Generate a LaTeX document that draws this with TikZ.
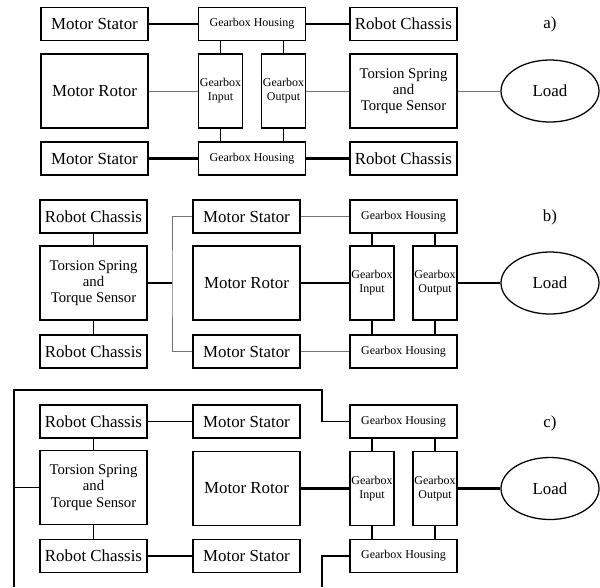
\documentclass[tikz,border=0pt]{standalone}
\usepackage{fontspec}
\setmainfont{Liberation Serif}
\usetikzlibrary{shapes.geometric}
\begin{document}
\begin{tikzpicture}[x=0.25mm, y=-0.25mm,
  box/.style={draw, line width=0.9pt, inner sep=0pt, align=center, minimum width=26.75mm, minimum height=8.25mm, font=\fontsize{12}{14}\selectfont},
  tallbox/.style={box, minimum height=18.5mm},
  spring/.style={tallbox, font=\fontsize{10.5}{11.6}\selectfont},
  gbox/.style={box, font=\fontsize{8.5}{10}\selectfont},
  gear/.style={gbox, minimum width=11mm, minimum height=18.5mm},
  load/.style={draw, ellipse, line width=0.9pt, inner sep=0pt, minimum width=24.5mm, minimum height=15.5mm, font=\fontsize{12}{14}\selectfont},
  lbl/.style={font=\fontsize{12}{14}\selectfont},
  thk/.style={line width=1.5pt},
  thn/.style={line width=0.8pt},
  gry/.style={line width=0.6pt, black!55}]
\useasboundingbox (0,0) rectangle (600,587);

\node[box] (ms1) at (94.5,24) {Motor Stator};
\node[gbox] (gh1) at (252,24) {Gearbox Housing};
\node[box] (rc1) at (403.5,24) {Robot Chassis};
\node[lbl] (la) at (550,24) {a)};
\node[tallbox] (mr1) at (94.5,91) {Motor Rotor};
\node[gear] (gi1) at (220.5,91) {Gearbox\\Input};
\node[gear] (go1) at (283.5,91) {Gearbox\\Output};
\node[spring] (ts1) at (403.5,91) {Torsion Spring\\and\\Torque Sensor};
\node[load] (ld1) at (550,91) {Load};
\node[box] (ms2) at (94.5,158.5) {Motor Stator};
\node[gbox] (gh2) at (252,158.5) {Gearbox Housing};
\node[box] (rc2) at (403.5,158.5) {Robot Chassis};

\draw[thk] (ms1) -- (gh1);
\draw[thk] (gh1) -- (rc1);
\draw[thk] (ms2) -- (gh2);
\draw[thk] (gh2) -- (rc2);
\draw[thn] (gi1.north) -- (gi1.north |- gh1.south) (go1.north) -- (go1.north |- gh1.south);
\draw[thn] (gi1.south) -- (gi1.south |- gh2.north) (go1.south) -- (go1.south |- gh2.north);
\draw[gry] (mr1) -- (gi1);
\draw[gry] (go1) -- (ts1);
\draw[gry] (ts1) -- (ld1);

\node[box] (rc3) at (93.5,216.5) {Robot Chassis};
\node[spring] (ts2) at (93.5,283) {Torsion Spring\\and\\Torque Sensor};
\node[box] (rc4) at (93.5,351.5) {Robot Chassis};
\node[box] (ms3) at (246.5,216.5) {Motor Stator};
\node[tallbox] (mr2) at (246.5,283) {Motor Rotor};
\node[box] (ms4) at (246.5,351.5) {Motor Stator};
\node[gbox] (gh3) at (403.5,216.5) {Gearbox Housing};
\node[gear] (gi2) at (372,283) {Gearbox\\Input};
\node[gear] (go2) at (435,283) {Gearbox\\Output};
\node[gbox] (gh4) at (403.5,351.5) {Gearbox Housing};
\node[load] (ld2) at (550,283) {Load};
\node[lbl] (lb) at (550,217) {b)};
\coordinate (fb) at (172,283);

\draw[thn] (rc3) -- (ts2);
\draw[thn] (ts2) -- (rc4);
\draw[thn] (ts2) -- (fb);
\draw[gry] (ms3.west) -| (fb) |- (ms4.west);
\draw[gry] (ms3) -- (gh3);
\draw[gry] (ms4) -- (gh4);
\draw[thk] (mr2) -- (gi2);
\draw[thk] (go2) -- (ld2);
\draw[thn] (gi2.north) -- (gi2.north |- gh3.south) (go2.north) -- (go2.north |- gh3.south);
\draw[thn] (gi2.south) -- (gi2.south |- gh4.north) (go2.south) -- (go2.south |- gh4.north);

\node[box] (rc5) at (93.5,421.5) {Robot Chassis};
\node[spring] (ts3) at (93.5,487.5) {Torsion Spring\\and\\Torque Sensor};
\node[box] (rc6) at (93.5,556) {Robot Chassis};
\node[box] (ms5) at (246.5,421.5) {Motor Stator};
\node[tallbox] (mr3) at (246.5,488.5) {Motor Rotor};
\node[box] (ms6) at (246.5,556) {Motor Stator};
\node[gbox] (gh5) at (403.5,421.5) {Gearbox Housing};
\node[gear] (gi3) at (372,488.5) {Gearbox\\Input};
\node[gear] (go3) at (435,488.5) {Gearbox\\Output};
\node[gbox] (gh6) at (403.5,556) {Gearbox Housing};
\node[load] (ld3) at (550,488.5) {Load};
\node[lbl] (lc) at (550,423) {c)};
\coordinate (f1) at (14,587);
\coordinate (f2) at (14,390);
\coordinate (f3) at (322,390);
\coordinate (f4) at (322,587);

\draw[thn] (rc5) -- (ms5);
\draw[thn] (rc6) -- (ms6);
\draw[thn] (rc5) -- (ts3);
\draw[thn] (ts3) -- (rc6);
\draw[thn] (f1) -- (f2) -- (f3) |- (gh5.west);
\draw[thn] (ts3.west) -- (ts3.west -| f2);
\draw[thn] (gh6.west) -| (f4);
\draw[thk] (mr3) -- (gi3);
\draw[thk] (go3) -- (ld3);
\draw[thn] (gi3.north) -- (gi3.north |- gh5.south) (go3.north) -- (go3.north |- gh5.south);
\draw[thn] (gi3.south) -- (gi3.south |- gh6.north) (go3.south) -- (go3.south |- gh6.north);
\end{tikzpicture}
\end{document}
